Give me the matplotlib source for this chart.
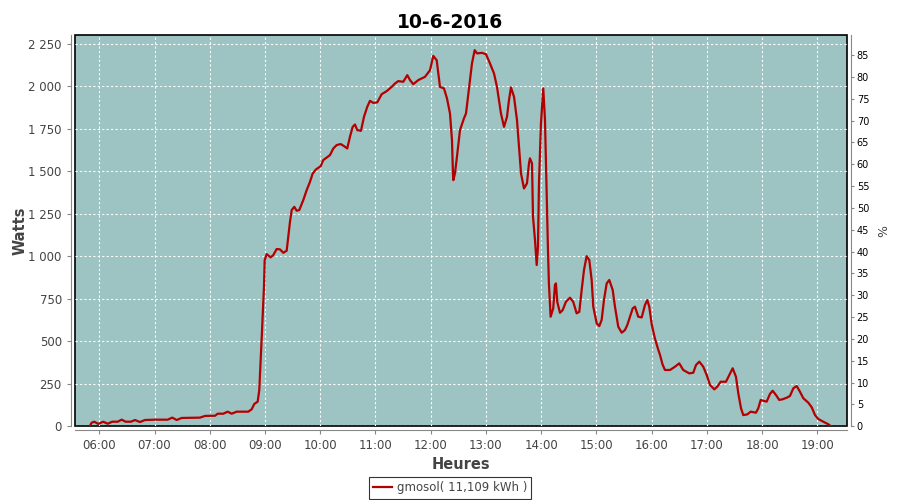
import numpy as np
import matplotlib
matplotlib.use('Agg')
import matplotlib.pyplot as plt
from matplotlib.ticker import FuncFormatter, MultipleLocator

# production data (hour of day, watts)
hours = [5.832, 5.862, 5.909, 5.982, 6.072, 6.152, 6.235, 6.333, 6.406, 6.478,
         6.574, 6.646, 6.737, 6.827, 7.008, 7.238, 7.322, 7.401, 7.492, 7.823,
         7.914, 8.095, 8.144, 8.245, 8.325, 8.397, 8.488, 8.698, 8.759, 8.806,
         8.868, 8.897, 8.910, 8.928, 8.946, 8.964, 8.982, 8.995, 9.031, 9.103,
         9.150, 9.212, 9.272, 9.332, 9.393, 9.422, 9.453, 9.484, 9.531, 9.574,
         9.621, 9.694, 9.755, 9.815, 9.864, 9.924, 10.009, 10.056, 10.117, 10.177,
         10.237, 10.298, 10.371, 10.431, 10.490, 10.539, 10.588, 10.630, 10.671, 10.738,
         10.793, 10.852, 10.901, 10.961, 11.033, 11.113, 11.204, 11.294, 11.354, 11.414,
         11.504, 11.577, 11.626, 11.685, 11.776, 11.897, 11.988, 12.047, 12.109, 12.169,
         12.241, 12.296, 12.350, 12.386, 12.404, 12.410, 12.440, 12.476, 12.531, 12.603,
         12.640, 12.676, 12.712, 12.748, 12.797, 12.839, 12.929, 13.002, 13.074, 13.147,
         13.201, 13.237, 13.273, 13.328, 13.382, 13.418, 13.454, 13.509, 13.563, 13.599,
         13.636, 13.690, 13.744, 13.780, 13.798, 13.835, 13.853, 13.889, 13.920, 13.943,
         13.961, 13.997, 14.039, 14.070, 14.088, 14.106, 14.124, 14.141, 14.172, 14.219,
         14.250, 14.268, 14.292, 14.341, 14.390, 14.449, 14.522, 14.581, 14.643, 14.691,
         14.734, 14.776, 14.824, 14.872, 14.915, 14.944, 15.006, 15.053, 15.096, 15.138,
         15.187, 15.234, 15.296, 15.337, 15.397, 15.459, 15.518, 15.560, 15.609, 15.658,
         15.699, 15.759, 15.821, 15.880, 15.922, 15.958, 16.002, 16.061, 16.121, 16.152,
         16.197, 16.242, 16.333, 16.423, 16.501, 16.573, 16.682, 16.755, 16.804, 16.864,
         16.936, 16.998, 17.058, 17.136, 17.190, 17.251, 17.347, 17.407, 17.468, 17.528,
         17.570, 17.619, 17.660, 17.733, 17.794, 17.890, 17.932, 17.975, 18.035, 18.084,
         18.143, 18.192, 18.252, 18.311, 18.373, 18.446, 18.505, 18.566, 18.627, 18.687,
         18.747, 18.837, 18.899, 18.959, 19.018, 19.109, 19.200, 19.248]
watts = [3, 21, 27, 14, 27, 15, 27, 27, 39, 27,
         27, 37, 25, 37, 39, 39, 51, 37, 49, 51,
         61, 62, 74, 74, 86, 74, 86, 86, 100, 131,
         145, 213, 301, 419, 556, 693, 820, 977, 1012, 993,
         1006, 1042, 1040, 1020, 1032, 1114, 1202, 1271, 1290, 1267,
         1271, 1330, 1388, 1437, 1486, 1510, 1529, 1565, 1580, 1594,
         1633, 1653, 1659, 1647, 1633, 1702, 1760, 1774, 1741, 1737,
         1819, 1878, 1913, 1901, 1904, 1952, 1970, 1995, 2015, 2029,
         2025, 2064, 2035, 2011, 2035, 2054, 2093, 2177, 2152, 1995,
         1986, 1927, 1839, 1682, 1486, 1447, 1486, 1584, 1741, 1810,
         1839, 1937, 2035, 2133, 2211, 2192, 2195, 2187, 2133, 2074,
         1995, 1917, 1839, 1760, 1819, 1917, 1992, 1937, 1800, 1643,
         1486, 1398, 1428, 1545, 1575, 1545, 1232, 1095, 948, 1055,
         1428, 1780, 1986, 1800, 1545, 1290, 1036, 840, 644, 693,
         830, 840, 732, 667, 683, 732, 756, 732, 664, 673,
         801, 918, 1000, 977, 860, 703, 605, 589, 625, 742,
         840, 860, 801, 703, 585, 550, 566, 595, 644, 693,
         703, 644, 640, 713, 742, 703, 600, 515, 450, 420,
         365, 331, 331, 350, 370, 331, 311, 315, 360, 380,
         350, 301, 243, 217, 233, 262, 262, 301, 341, 291,
         194, 106, 66, 70, 86, 80, 106, 155, 149, 145,
         190, 209, 184, 155, 159, 168, 178, 223, 237, 203,
         165, 139, 112, 66, 43, 27, 12, 0]

title = '10-6-2016'
legend_label = 'gmosol( 11,109 kWh )'
hour_ticks = list(range(6, 20))
watt_ticks = list(range(0, 2251, 250))
pct_ticks = list(range(0, 86, 5))

bg = '#9dc3c2'
red = '#b40000'
grey = '#444444'

fig = plt.figure(figsize=(9, 5), dpi=100)
ax = fig.add_axes([0.0833, 0.1474, 0.8578, 0.7826])
ax.set_facecolor(bg)
ax.patch.set_edgecolor('black')
ax.patch.set_linewidth(1.2)

line, = ax.plot(hours, watts, color=red, lw=1.6, label=legend_label)

ax.set_xlim(5.560, 19.538)
ax.set_ylim(0, 2300)
ax.set_xticks(hour_ticks)
ax.xaxis.set_major_formatter(FuncFormatter(lambda v, p: '%02d:00' % int(round(v))))
ax.set_yticks(watt_ticks)
ax.yaxis.set_major_formatter(FuncFormatter(lambda v, p: '{:,}'.format(int(v)).replace(',', ' ')))
ax.grid(True, color='white', lw=0.8, ls=(0, (2, 2)))
ax.set_axisbelow(True)

for s in ['top', 'right']:
    ax.spines[s].set_visible(False)
for s in ['left', 'bottom']:
    ax.spines[s].set_position(('outward', 3))
    ax.spines[s].set_color('#888888')
ax.tick_params(axis='both', colors='#888888', labelcolor=grey, labelsize=8.5, length=3, width=0.8)

ax.set_xlabel('Heures', fontsize=10.5, fontweight='bold', color=grey, labelpad=3)
ax.set_ylabel('Watts', fontsize=10.5, fontweight='bold', color=grey)
ax.yaxis.set_label_coords(-0.061, 0.5)

ax2 = ax.twinx()
ax2.set_ylim(0, 89.6)
ax2.set_yticks(pct_ticks)
for s in ['top', 'left', 'bottom']:
    ax2.spines[s].set_visible(False)
ax2.spines['right'].set_position(('outward', 3))
ax2.spines['right'].set_color('#888888')
ax2.tick_params(axis='y', colors='#888888', labelcolor='black', labelsize=7, length=2, width=0.8, pad=2)
ax2.set_ylabel('%', fontsize=9, color=grey, labelpad=6)

fig.suptitle(title, fontsize=13.5, fontweight='bold', y=0.975)

leg = fig.legend(handles=[line], loc='center', bbox_to_anchor=(0.5, 0.024),
                 fontsize=8.5, frameon=True, fancybox=False, handlelength=1.6,
                 handletextpad=0.4, borderpad=0.35, borderaxespad=0)
leg.get_frame().set_edgecolor('black')
leg.get_frame().set_linewidth(0.8)
for t in leg.get_texts():
    t.set_color(grey)

plt.savefig('out.png', dpi=100)
